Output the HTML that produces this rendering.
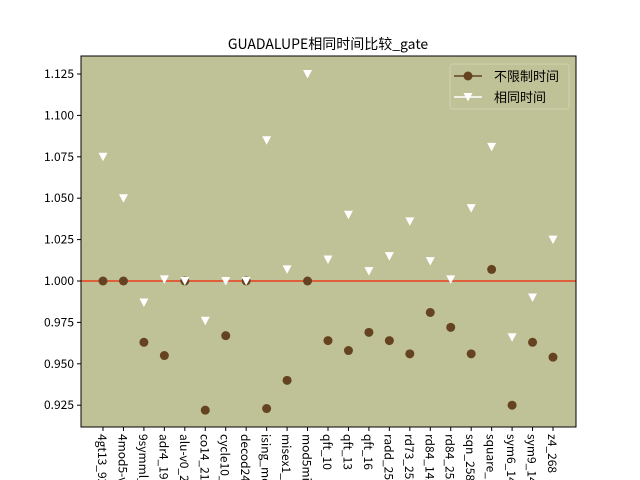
<!DOCTYPE html>
<html><head><meta charset="utf-8"><style>
body{margin:0;background:#fff;width:640px;height:480px;overflow:hidden}
svg{display:block;overflow:hidden}
text{font-family:"WenQuanYi Zen Hei","Noto Sans CJK SC",sans-serif}
</style></head><body>
<svg id="chart" width="640" height="480">
<defs><clipPath id="clipB"><rect x="0" y="0" width="640" height="480"/></clipPath></defs>
</svg>
<script>
const categories=["4gt13_92","4mod5-v1_22","9symml_195","adr4_197","alu-v0_27","co14_215","cycle10_2_110","decod24-v2_43","ising_model_10","misex1_241","mod5mils_65","qft_10","qft_13","qft_16","radd_250","rd73_252","rd84_142","rd84_253","sqn_258","square_root_7","sym6_145","sym9_146","z4_268"];
const unlimited=[1.000,1.000,0.963,0.955,1.000,0.922,0.967,1.000,0.923,0.940,1.000,0.964,0.958,0.969,0.964,0.956,0.981,0.972,0.956,1.007,0.925,0.963,0.954];
const sameTime=[1.075,1.050,0.987,1.001,1.000,0.976,1.000,1.000,1.085,1.007,1.125,1.013,1.040,1.006,1.015,1.036,1.012,1.001,1.044,1.081,0.966,0.990,1.025];
const yTicks=[0.925,0.950,0.975,1.000,1.025,1.050,1.075,1.100,1.125];
const NS="http://www.w3.org/2000/svg";
const svg=document.getElementById('chart');
const L=81,R=576,T=56,B=427;
const x=i=>103+i*(553-103)/(categories.length-1);
const y=v=>281-(v-1)*1656;
function mk(tag,attrs,parent){const e=document.createElementNS(NS,tag);for(const k in attrs)e.setAttribute(k,attrs[k]);(parent||svg).appendChild(e);return e;}
const bg=mk('rect',{x:L,y:T,width:R-L,height:B-T,fill:'#bfc197'});


const title=mk('text',{x:328,y:49,'text-anchor':'middle','font-size':14});
title.textContent='GUADALUPE相同时间比较_gate';


yTicks.forEach(v=>{
  mk('line',{x1:L-4,x2:L,y1:y(v),y2:y(v),stroke:'#000'});
  const t=mk('text',{x:L-7,y:y(v)+4,'text-anchor':'end','font-size':12});
  t.textContent=v.toFixed(3);
  
  
});
const xg=mk('g',{'clip-path':'url(#clipB)'});
categories.forEach((c,i)=>{
  mk('line',{x1:x(i),x2:x(i),y1:B,y2:B+4,stroke:'#000'});
  const t=mk('text',{x:x(i)-5,y:B+7,'font-size':12,transform:`rotate(90 ${x(i)-5} ${B+7})`},xg);
  t.textContent=c;
  
  
});
const ref=mk('line',{x1:L,x2:R,y1:y(1),y2:y(1),stroke:'#e8401c','stroke-width':1.5});


unlimited.forEach((v,i)=>{
  const c=mk('circle',{cx:x(i),cy:y(v),r:4.5,fill:'#654321'});
  
  
});
sameTime.forEach((v,i)=>{
  const px=x(i),py=y(v);
  const p=mk('polygon',{points:`${px-4.5},${py-4} ${px+4.5},${py-4} ${px},${py+4.5}`,fill:'#fff'});
  
  
});
mk('rect',{x:L,y:T,width:R-L,height:B-T,fill:'none',stroke:'#000'});
const lg=mk('g',{});


mk('rect',{x:450,y:64,width:119,height:45,rx:3,fill:'#bfc197',stroke:'#d0d2b0'},lg);
mk('line',{x1:454,x2:482,y1:76,y2:76,stroke:'#654321','stroke-width':1.5},lg);
mk('circle',{cx:468,cy:76,r:4.5,fill:'#654321'},lg);
const t1=mk('text',{x:494,y:81,'font-size':13},lg);t1.textContent='不限制时间';
mk('line',{x1:454,x2:482,y1:97,y2:97,stroke:'#fff','stroke-width':1.5},lg);
mk('polygon',{points:'463.5,93 472.5,93 468,101.5',fill:'#fff'},lg);
const t2=mk('text',{x:494,y:102,'font-size':13},lg);t2.textContent='相同时间';
</script>
</body></html>
